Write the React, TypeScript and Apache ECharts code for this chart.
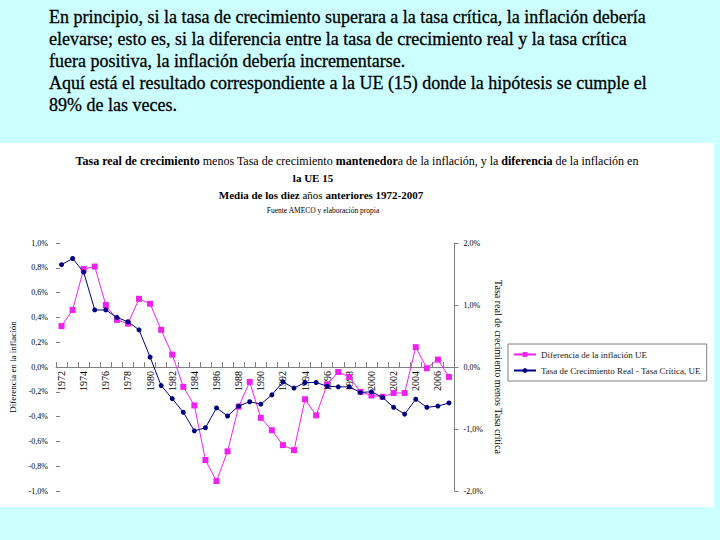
import React, { useEffect, useRef } from "react";
import * as echarts from "echarts";

const years: string[] = [];
for (let y = 1972; y <= 2007; y++) years.push(String(y));

// Diferencia de la inflación UE (left axis, %)
const inflationDiff = [
  0.33, 0.46, 0.79, 0.81, 0.5, 0.38, 0.35, 0.55, 0.51, 0.3,
  0.1, -0.16, -0.31, -0.75, -0.92, -0.68, -0.32, -0.12, -0.41, -0.51,
  -0.63, -0.67, -0.26, -0.39, -0.14, -0.04, -0.08, -0.2, -0.23, -0.24,
  -0.21, -0.21, 0.16, -0.01, 0.06, -0.08,
];

// Tasa de Crecimiento Real - Tasa Crítica, UE (right axis, %)
const growthGap = [
  1.65, 1.75, 1.53, 0.92, 0.92, 0.8, 0.73, 0.6, 0.16, -0.3,
  -0.51, -0.73, -1.03, -0.98, -0.66, -0.79, -0.63, -0.56, -0.6, -0.45,
  -0.24, -0.34, -0.25, -0.25, -0.31, -0.32, -0.32, -0.41, -0.4, -0.49,
  -0.65, -0.76, -0.52, -0.65, -0.63, -0.58,
];

const introText = [
  "En principio, si la tasa de crecimiento superara a la tasa crítica, la inflación debería",
  "elevarse; esto es, si la diferencia entre la tasa de crecimiento real y la tasa crítica",
  "fuera positiva, la inflación debería incrementarse.",
  "Aquí está el resultado correspondiente a la UE (15) donde la hipótesis se cumple el",
  "89% de las veces.",
];

const seriesNames = [
  "Diferencia de la inflación UE",
  "Tasa de Crecimiento Real - Tasa Crítica, UE",
];

const fmt = (v: number) => {
  const s = (Math.abs(v) < 1e-9 ? 0 : v).toFixed(1).replace(".", ",");
  return s + "%";
};

const SERIF = "Liberation Serif";

export default function App() {
  const ref = useRef<HTMLDivElement>(null);
  useEffect(() => {
    if (!ref.current) return;
    const chart = echarts.init(ref.current, undefined, { renderer: "svg" });
    const introEls = introText.map((line, i) => ({
      type: "text",
      x: 49,
      y: 17 + i * 22,
      style: {
        text: line,
        fontSize: 18,
        fontFamily: SERIF,
        verticalAlign: "middle",
        fill: "#000000",
        stroke: "#000000",
        lineWidth: 0.3,
      },
    }));
    chart.setOption({
      animation: false,
      backgroundColor: "#ccffff",
      textStyle: { fontFamily: SERIF },
      graphic: [
        {
          type: "rect",
          z: -1,
          shape: { x: 0, y: 143, width: 714, height: 364 },
          style: { fill: "#ffffff" },
        },
        ...introEls,
        {
          type: "text",
          x: 357,
          y: 161,
          style: {
            text:
              "{b|Tasa real de crecimiento}{n| menos Tasa de crecimiento }{b|mantenedor}{n|a de la inflación, y la }{b|diferencia}{n| de la inflación en}",
            align: "center",
            verticalAlign: "middle",
            rich: {
              b: { fontSize: 12, fontWeight: "bold", fontFamily: SERIF, fill: "#000" },
              n: { fontSize: 12, fontFamily: SERIF, fill: "#000" },
            },
          },
        },
        {
          type: "text",
          x: 313,
          y: 178,
          style: {
            text: "la UE 15",
            align: "center",
            verticalAlign: "middle",
            fontSize: 11,
            fontWeight: "bold",
            fontFamily: SERIF,
            fill: "#000",
          },
        },
        {
          type: "text",
          x: 321,
          y: 195,
          style: {
            text: "{b|Media de los diez }{n|años }{b|anteriores 1972-2007}",
            align: "center",
            verticalAlign: "middle",
            rich: {
              b: { fontSize: 11, fontWeight: "bold", fontFamily: SERIF, fill: "#000" },
              n: { fontSize: 11, fontFamily: SERIF, fill: "#000" },
            },
          },
        },
        {
          type: "text",
          x: 323,
          y: 210,
          style: {
            text: "Fuente AMECO y elaboración propia",
            align: "center",
            verticalAlign: "middle",
            fontSize: 7.5,
            fontFamily: SERIF,
            fill: "#000",
          },
        },
      ],
      grid: { left: 54.5, right: 265.5, top: 243, bottom: 49, containLabel: false },
      legend: {
        orient: "vertical",
        left: 508,
        top: 344,
        backgroundColor: "#ffffff",
        borderColor: "#808080",
        borderWidth: 1,
        padding: [6, 6, 6, 5],
        itemGap: 7,
        itemWidth: 22,
        itemHeight: 6,
        textStyle: { fontSize: 9, fontFamily: SERIF, color: "#222" },
        data: seriesNames,
      },
      xAxis: {
        type: "category",
        data: years,
        boundaryGap: true,
        position: "bottom",
        offset: -124,
        axisLine: {
          onZero: false,
          lineStyle: { color: "#808080", width: 1 },
        },
        axisTick: {
          show: true,
          inside: true,
          length: 5,
          interval: 0,
          lineStyle: { color: "#808080" },
        },
        axisLabel: {
          rotate: 90,
          interval: 1,
          fontSize: 10,
          margin: 4,
          color: "#000",
          fontFamily: SERIF,
        },
        splitLine: { show: false },
      },
      yAxis: [
        {
          type: "value",
          position: "left",
          min: -1,
          max: 1,
          interval: 0.2,
          name: "Diferencia en la inflación",
          nameLocation: "middle",
          nameRotate: 90,
          nameGap: 39,
          nameTextStyle: { fontSize: 9, fontFamily: SERIF, color: "#000" },
          axisLine: { show: false },
          axisTick: { show: true, inside: true, length: 4, lineStyle: { color: "#808080" } },
          axisLabel: {
            formatter: fmt,
            fontSize: 8,
            margin: 8,
            color: "#000",
            fontFamily: SERIF,
          },
          splitLine: { show: false },
        },
        {
          type: "value",
          position: "right",
          min: -2,
          max: 2,
          interval: 1,
          name: "Tasa real de crecimiento menos Tasa crítica",
          nameLocation: "middle",
          nameRotate: -90,
          nameGap: 37,
          nameTextStyle: { fontSize: 10, fontFamily: SERIF, color: "#000" },
          axisLine: { show: true, lineStyle: { color: "#808080", width: 1 } },
          axisTick: { show: true, length: 4, lineStyle: { color: "#808080" } },
          axisLabel: {
            formatter: fmt,
            fontSize: 8,
            margin: 9,
            color: "#000",
            fontFamily: SERIF,
          },
          splitLine: { show: false },
        },
      ],
      series: [
        {
          name: seriesNames[0],
          type: "line",
          yAxisIndex: 0,
          data: inflationDiff,
          symbol: "rect",
          symbolSize: 6,
          lineStyle: { color: "#ee22ee", width: 1 },
          itemStyle: { color: "#ee22ee" },
          z: 3,
        },
        {
          name: seriesNames[1],
          type: "line",
          yAxisIndex: 1,
          data: growthGap,
          symbol: "circle",
          symbolSize: 5,
          lineStyle: { color: "#000080", width: 1 },
          itemStyle: { color: "#000080" },
          z: 4,
        },
      ],
    });
    return () => chart.dispose();
  }, []);
  return (
    <div
      ref={ref}
      style={{ position: "absolute", left: 0, top: 0, width: 720, height: 540 }}
    />
  );
}
